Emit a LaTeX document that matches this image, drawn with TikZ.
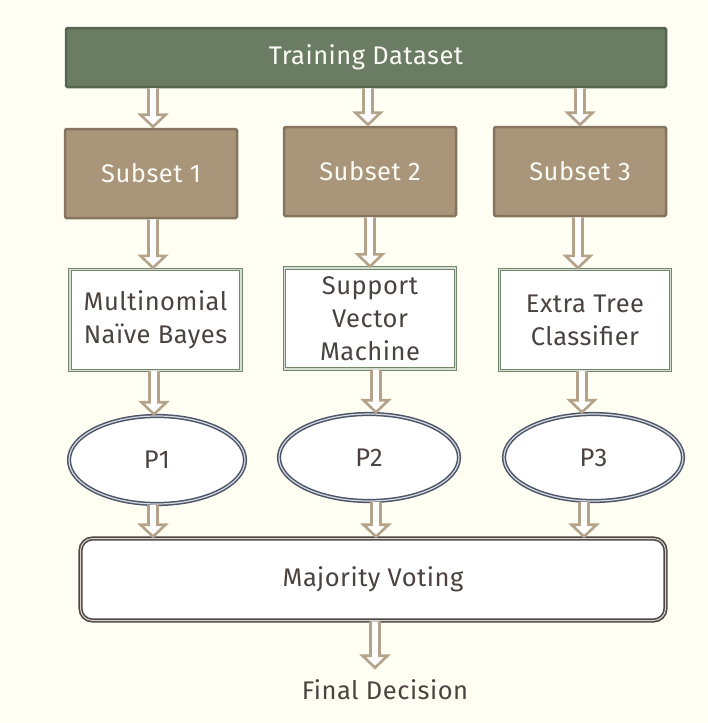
\documentclass[tikz,border=0pt]{standalone}
\usepackage{fontspec}
\setmainfont{Fira Sans}[LetterSpace=2]
\usetikzlibrary{calc,shapes.geometric}
\definecolor{bgc}{HTML}{FEFEF3}
\definecolor{tdfill}{HTML}{6B7C64}
\definecolor{tdborder}{HTML}{55654E}
\definecolor{subfill}{HTML}{A8957A}
\definecolor{subborder}{HTML}{85755F}
\definecolor{arrtan}{HTML}{B4A38A}
\definecolor{clsborder}{HTML}{72876B}
\definecolor{clslight}{HTML}{D6DDD2}
\definecolor{ellborder}{HTML}{4D5568}
\definecolor{elllight}{HTML}{D5D9E0}
\definecolor{mvborder}{HTML}{4E4743}
\definecolor{mvlight}{HTML}{D8D4D0}
\definecolor{txtdark}{HTML}{4A4340}
\definecolor{txtlight}{HTML}{FAFAF4}
\tikzset{
  basefont/.style={font=\fontsize{25.5}{33}\selectfont},
  tdbox/.style={basefont, draw=tdborder, line width=2.5pt, fill=tdfill, text=txtlight,
    minimum width=600pt, minimum height=59pt, inner sep=0pt, rounded corners=1.5pt},
  subbox/.style={basefont, draw=subborder, line width=2.5pt, fill=subfill, text=txtlight,
    minimum width=172pt, minimum height=89pt, inner sep=0pt, rounded corners=1.5pt},
  clsbox/.style={basefont, draw=clsborder, double=clslight, double distance=1.2pt, line width=1.3pt,
    fill=white, text=txtdark, align=center, minimum width=171pt, minimum height=101pt, inner sep=0pt},
  pnode/.style={basefont, ellipse, draw=ellborder, double=elllight, double distance=1.2pt, line width=1.5pt,
    fill=white, text=txtdark, inner sep=0pt},
  mvbox/.style={basefont, draw=mvborder, double=mvlight, double distance=1pt, line width=1.6pt,
    fill=white, text=txtdark, minimum width=585pt, minimum height=82pt, inner sep=0pt, rounded corners=12pt},
  fdtext/.style={basefont, text=txtdark, inner sep=0pt},
  barr/.style={draw=arrtan, fill=white, line width=2.6pt, line join=miter}
}
\newcommand\barrow[2]{%
  \draw[barr] let \p1=#1, \p2=#2 in
    (\x1-4.5pt,\y1) -- (\x1-4.5pt,\y2+13pt) -- (\x1-12.5pt,\y2+13pt) -- (\x1,\y2+1pt)
    -- (\x1+12.5pt,\y2+13pt) -- (\x1+4.5pt,\y2+13pt) -- (\x1+4.5pt,\y1);}
\begin{document}
\begin{tikzpicture}[x=1pt,y=-1pt]
\fill[bgc] (0,0) rectangle (708,723);
\useasboundingbox (0,0) rectangle (708,723);

\node[tdbox] (td) at (366,57.5) {Training Dataset};

\node[subbox] (sub1) at (151,173.5) {Subset 1};
\node[subbox] (sub2) at (370,171.5) {Subset 2};
\node[subbox] (sub3) at (580,171.5) {Subset 3};

\node[clsbox] (c1) at (155.5,320) {Multinomial\\Naïve Bayes};
\node[clsbox] (c2) at (370,318.5) {Support\\Vector\\Machine};
\node[clsbox] (c3) at (585,320) {Extra Tree\\Classifier};

\node[pnode, minimum width=176pt, minimum height=88pt] (p1) at (157,460) {P1};
\node[pnode, minimum width=180pt, minimum height=87pt] (p2) at (369,457.5) {P2};
\node[pnode, minimum width=179pt, minimum height=87pt] (p3) at (593.5,457.5) {P3};

\node[mvbox] (mv) at (373,579.5) {Majority Voting};
\node[fdtext] (fd) at (385,690) {Final Decision};

\barrow{([xshift=2pt]td.south -| sub1)}{([xshift=2pt]sub1.north)}
\barrow{([xshift=-2pt]td.south -| sub2)}{([xshift=-2pt]sub2.north)}
\barrow{(td.south -| sub3)}{(sub3.north)}

\barrow{([xshift=2pt]sub1.south)}{([xshift=2pt]sub1.south |- c1.north)}
\barrow{(sub2.south)}{(sub2.south |- c2.north)}
\barrow{([xshift=-2pt]sub3.south)}{([xshift=-2pt]sub3.south |- c3.north)}

\barrow{([xshift=-1.5pt]c1.south)}{([xshift=-1.5pt]c1.south |- p1.north)}
\barrow{([xshift=6pt]c2.south)}{([xshift=6pt]c2.south |- p2.north)}
\barrow{([xshift=-3pt]c3.south)}{([xshift=-3pt]c3.south |- p3.north)}

\barrow{([xshift=-4pt]p1.south)}{([xshift=-4pt]p1.south |- mv.north)}
\barrow{([xshift=7pt]p2.south)}{([xshift=7pt]p2.south |- mv.north)}
\barrow{([xshift=-9.5pt]p3.south)}{([xshift=-9.5pt]p3.south |- mv.north)}

\barrow{([xshift=-10pt]mv.south -| fd)}{([xshift=-10pt,yshift=11pt]fd.north)}
\end{tikzpicture}
\end{document}
